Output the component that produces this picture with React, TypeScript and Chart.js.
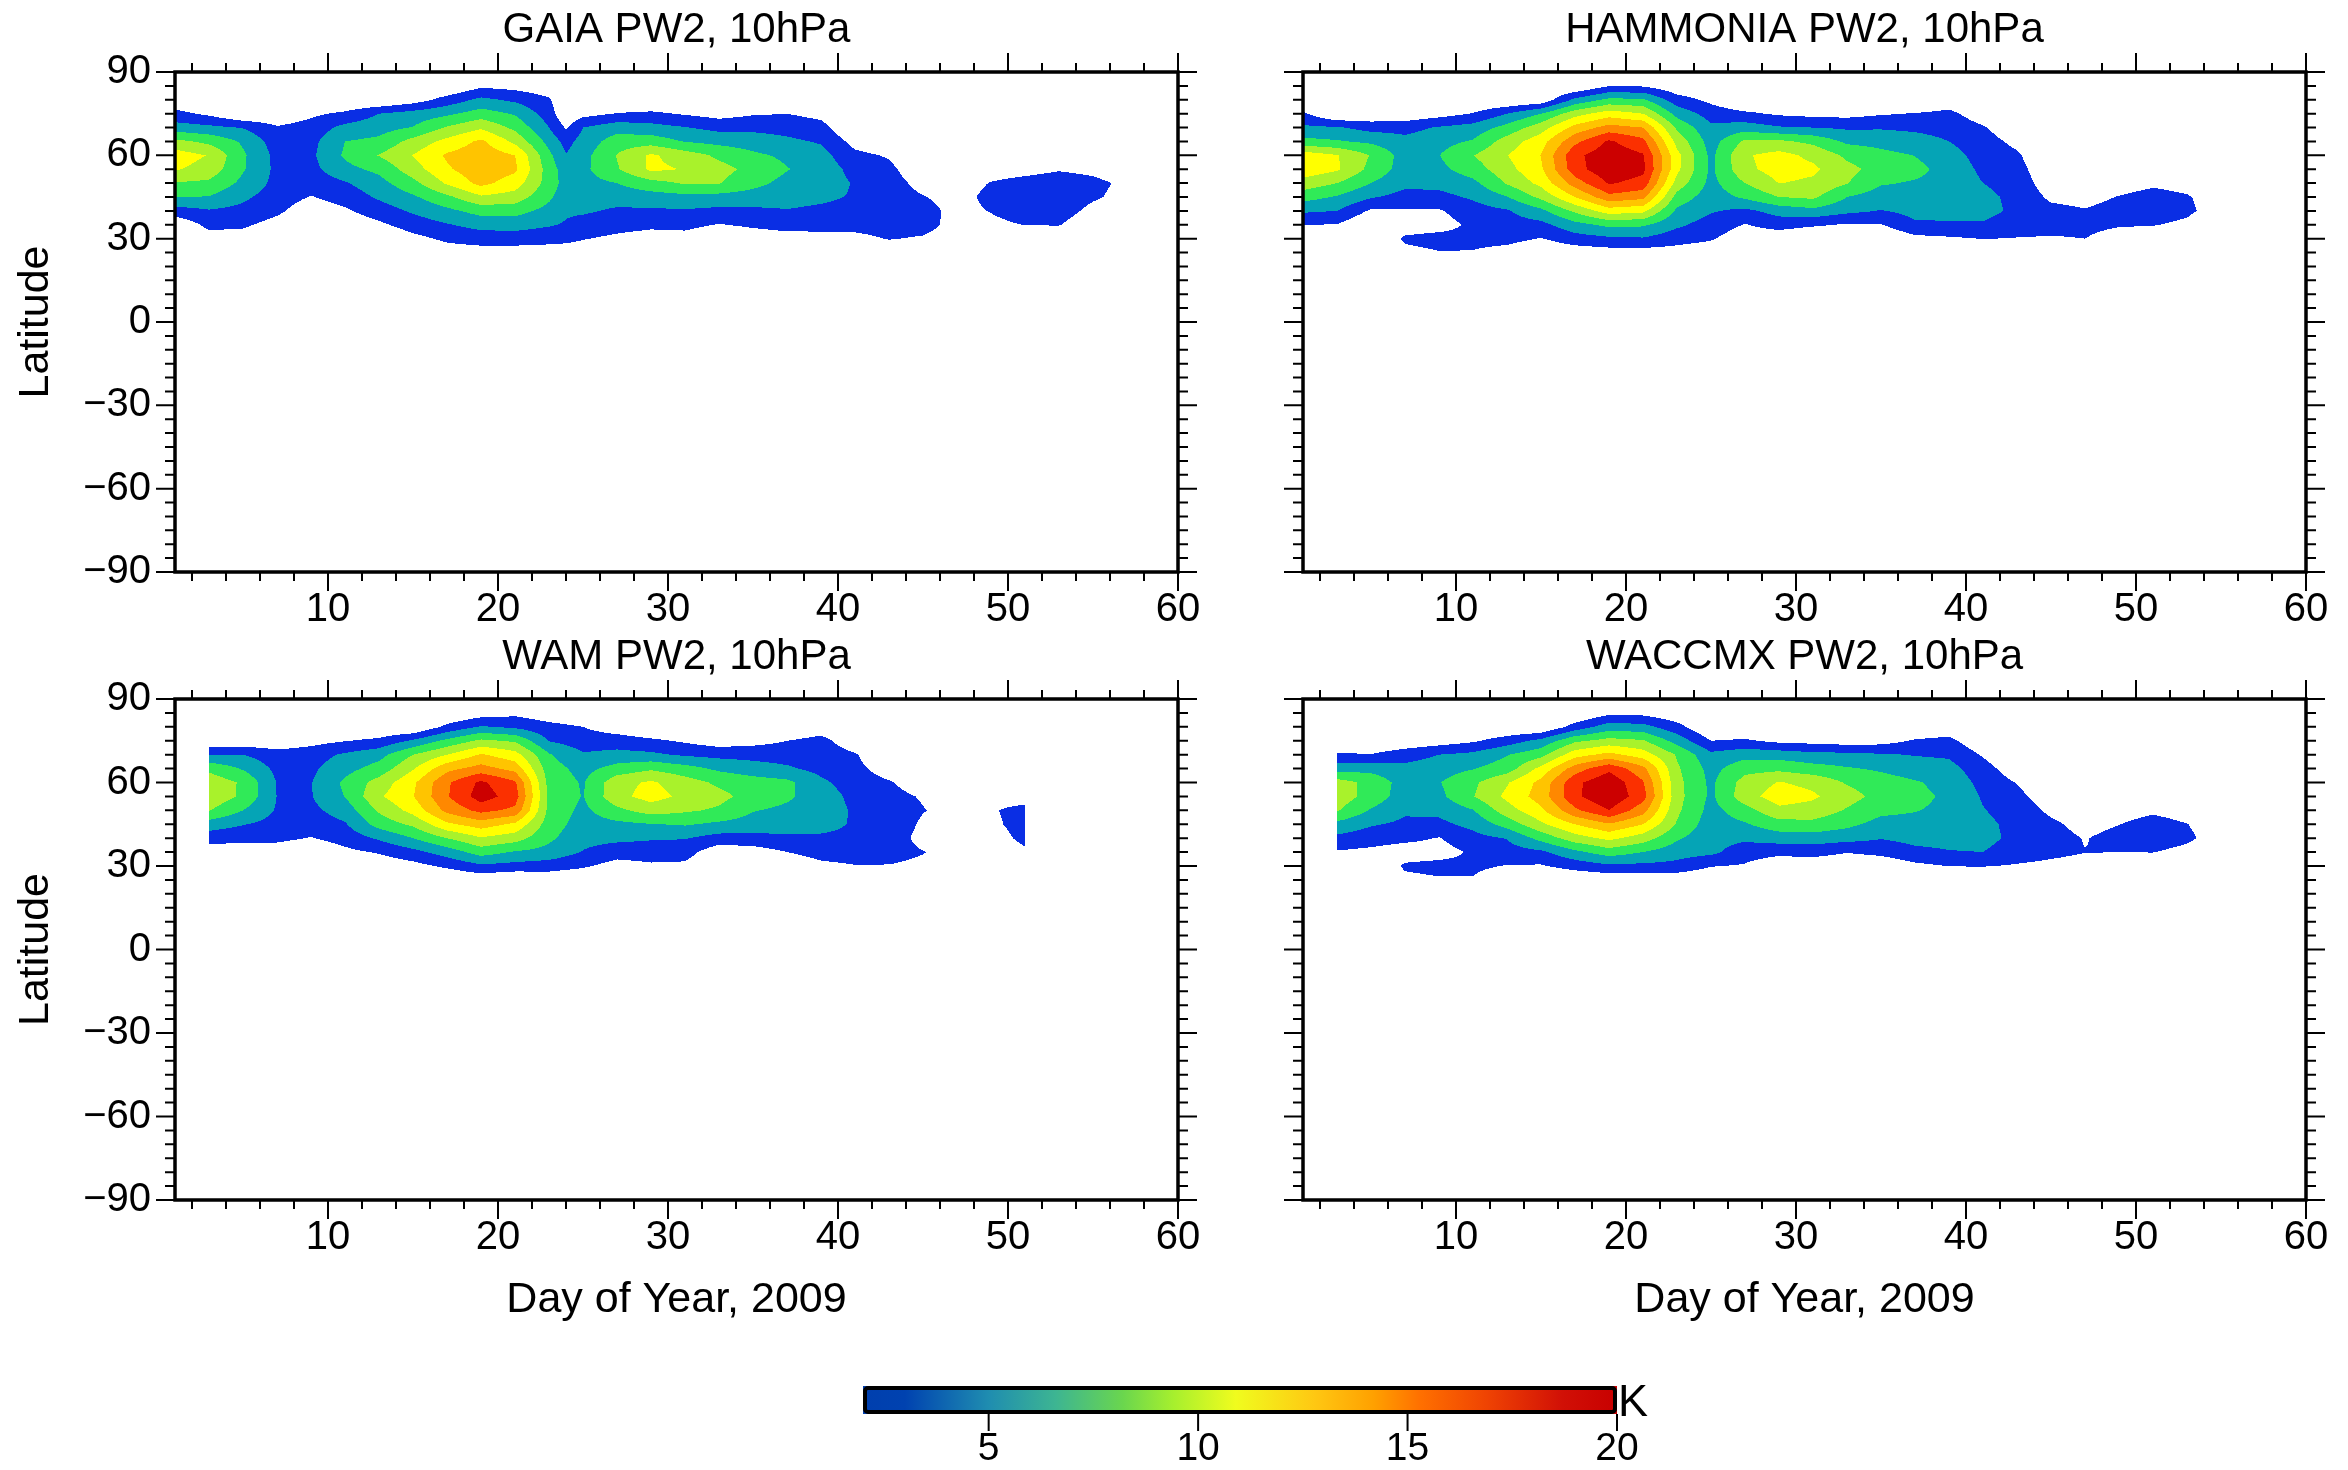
import React, { useEffect, useRef } from 'react';
import { Chart, registerables } from 'chart.js';

Chart.register(...registerables);

const FONT = '"Liberation Sans", Arial, Helvetica, sans-serif';

// ---- grid axes of the PW2 amplitude fields ----
const DAYS = [1, 3, 5, 7, 9, 11, 13, 15, 17, 19, 21, 23, 25, 27, 29, 31, 33, 35, 37, 39, 41, 43, 45, 47, 49, 51, 53, 55, 57, 59];
const GAIA_DAYS = [1, 3, 5, 7, 9, 11, 13, 15, 17, 19, 21, 23, 24, 25, 27, 29, 31, 33, 35, 37, 39, 41, 43, 45, 47, 49, 51, 53, 55, 57, 59];
const LATS = [25, 30, 35, 40, 45, 50, 55, 60, 65, 70, 75, 80, 85, 90];

// ---- axis ticks ----
const X_TICKS = [10, 20, 30, 40, 50, 60];
const Y_TICKS = [-90, -60, -30, 0, 30, 60, 90];
const CB_TICKS = [5, 10, 15, 20];

// ---- contour levels (K) ----
const LEVELS = [2, 4, 6, 8, 10, 12, 14, 16, 18];
const LEVEL_COLORS = ['#0a2ee4', '#05a4b6', '#30ea58', '#a9f22b', '#ffff00', '#ffc400', '#ff8800', '#fb3000', '#cc0000'];

// ---- colour bar ----
const CB_STOPS = [2, 3, 5, 6.6, 8.2, 9.4, 10.9, 12.8, 14.2, 15.3, 16.9, 18.7, 20];
const CB_COLORS = ['#003fae', '#0042b0', '#1f8db0', '#3db592', '#6ad64e', '#a6ef2e', '#f0fc1e', '#ffc712', '#ffa000', '#ff7000', '#ef4303', '#d11006', '#c80000'];

// ---- PW2 amplitude (K); one column per day, values at LATS ----
const GAIA_PW2 = [
  [0, 0, 0.5, 3.1, 6.1, 7.85, 10.2, 11.0, 8.55, 4.9, 2.6, 0.5, 0, 0],
  [0, 1.2, 2.5, 3.8, 5.9, 7.6, 9.2, 9.9, 7.5, 4.5, 1.6, 0, 0, 0],
  [0, 1.2, 2.3, 3.4, 4.4, 5.5, 6.2, 6.3, 5.7, 3.9, 0, 0, 0, 0],
  [0, 0.3, 1.3, 2.4, 3.0, 3.4, 3.5, 3.4, 3.0, 2.2, 0.5, 0, 0, 0],
  [0, 0, 0.3, 0.8, 1.9, 2.8, 3.4, 3.6, 3.4, 2.8, 1.6, 0, 0, 0],
  [0, 0, 0.6, 1.7, 2.8, 3.8, 5.4, 6.3, 6.0, 4.6, 2.4, 0, 0, 0],
  [0, 0.2, 1.6, 3.0, 4.3, 5.3, 6.5, 8.1, 6.5, 5.2, 4.0, 0, 0, 0],
  [0, 1.4, 2.9, 4.3, 5.7, 7.4, 9.1, 10.05, 8.7, 6.1, 4.8, 1.0, 0, 0],
  [1.0, 2.4, 3.85, 5.5, 7.55, 10.3, 11.7, 12.3, 10.6, 8.2, 5.6, 2.8, 0, 0],
  [1.1, 2.9, 4.7, 6.75, 9.7, 12.6, 13.4, 13.3, 12.4, 9.7, 6.9, 4.5, 1.6, 0],
  [1.0, 3.0, 4.8, 6.75, 9.1, 11.0, 12.4, 12.0, 9.5, 7.5, 5.8, 3.6, 1.3, 0],
  [1.0, 2.7, 4.2, 5.3, 6.4, 7.1, 7.0, 6.5, 5.3, 4.0, 3.0, 2.3, 0.6, 0],
  [1.0, 2.5, 3.8, 4.3, 4.8, 5.2, 5.0, 4.1, 3.3, 1.8, 0.3, 0, 0, 0],
  [1.0, 2.1, 3.2, 4.3, 4.8, 5.3, 5.5, 5.3, 4.8, 4.0, 1.3, 0, 0, 0],
  [0, 1.6, 2.7, 3.7, 4.8, 6.0, 7.8, 8.1, 7.0, 5.2, 2.1, 0, 0, 0],
  [0, 1.2, 2.4, 3.7, 5.1, 7.3, 10.4, 10.3, 7.1, 4.7, 2.4, 0, 0, 0],
  [0, 1.3, 2.5, 3.8, 5.4, 8.2, 9.9, 9.0, 5.9, 4.1, 1.8, 0, 0, 0],
  [0, 0.5, 1.9, 3.5, 5.3, 8.1, 8.7, 7.6, 5.4, 3.4, 1.2, 0, 0, 0],
  [0, 1.0, 2.3, 3.6, 5.1, 6.6, 7.4, 6.4, 5.0, 3.5, 1.8, 0, 0, 0],
  [0, 1.2, 2.7, 3.9, 4.7, 5.4, 6.1, 5.6, 4.4, 3.3, 2.0, 0, 0, 0],
  [0, 1.5, 2.5, 3.6, 4.4, 5.2, 5.2, 4.7, 3.8, 2.7, 1.4, 0, 0, 0],
  [0, 1.5, 2.6, 3.3, 3.8, 3.8, 3.3, 2.5, 1.3, 0, 0, 0, 0, 0],
  [0.8, 2.1, 2.7, 3.0, 3.1, 2.9, 2.5, 1.8, 0.5, 0, 0, 0, 0, 0],
  [0.5, 1.8, 2.7, 2.8, 2.1, 1.3, 0.5, 0, 0, 0, 0, 0, 0, 0],
  [0, 1.0, 1.3, 1.3, 1.2, 1.0, 0.5, 0, 0, 0, 0, 0, 0, 0],
  [0, 0.5, 1.5, 2.1, 2.6, 2.1, 1.0, 0, 0, 0, 0, 0, 0, 0],
  [0, 0.3, 2.05, 3.0, 3.3, 2.8, 1.2, 0, 0, 0, 0, 0, 0, 0],
  [0, 0.5, 2.1, 3.0, 3.4, 3.2, 1.8, 0.3, 0, 0, 0, 0, 0, 0],
  [0, 0, 0.5, 1.4, 2.3, 2.6, 1.4, 0, 0, 0, 0, 0, 0, 0],
  [0, 0, 0, 0.5, 1.3, 1.5, 0.5, 0, 0, 0, 0, 0, 0, 0],
  [0, 0, 0, 0, 0, 0, 0, 0, 0, 0, 0, 0, 0, 0],
];

const HAMMONIA_PW2 = [
  [0, 0, 2.05, 4.3, 6.8, 9.2, 11.3, 11.2, 6.6, 4.4, 2.3, 0, 0, 0],
  [0, 0.3, 1.9, 4.0, 5.8, 8.0, 10.3, 10.1, 6.2, 4.2, 0, 0, 0, 0],
  [0, 0, 0, 1.7, 4.2, 6.0, 7.4, 7.9, 5.6, 3.3, 0.3, 0, 0, 0],
  [1.5, 2.3, 1.0, 1.8, 3.3, 4.5, 5.1, 5.1, 4.6, 3.3, 0.5, 0, 0, 0],
  [1.9, 2.7, 1.2, 1.8, 3.4, 4.6, 5.5, 5.95, 5.3, 4.2, 1.2, 0, 0, 0],
  [1.9, 2.5, 2.4, 3.1, 4.3, 5.5, 7.0, 7.95, 6.2, 4.8, 2.1, 0, 0, 0],
  [1.3, 2.6, 3.1, 3.8, 5.9, 8.2, 9.3, 9.95, 8.9, 6.7, 4.0, 0, 0, 0],
  [0.3, 1.9, 3.4, 5.5, 8.5, 10.6, 11.7, 12.05, 11.2, 9.1, 6.0, 0.5, 0, 0],
  [0.8, 3.1, 5.3, 8.4, 12.0, 15.0, 17.2, 17.5, 15.5, 12.7, 9.2, 4.5, 0, 0],
  [1.1, 3.6, 6.5, 11.0, 15.4, 18.2, 19.5, 19.3, 18.3, 14.8, 11.0, 6.5, 1.9, 0],
  [1.1, 3.8, 6.3, 10.5, 14.6, 17.3, 18.5, 18.2, 16.6, 14.0, 10.0, 6.3, 1.8, 0],
  [1.1, 2.8, 4.4, 5.6, 7.2, 9.2, 10.5, 10.6, 9.3, 7.6, 5.3, 2.9, 0.5, 0],
  [0.8, 2.2, 3.1, 4.2, 4.9, 5.4, 5.6, 5.5, 5.1, 4.4, 3.1, 1.5, 0, 0],
  [0, 0.8, 1.9, 3.5, 6.4, 8.0, 9.5, 9.8, 8.4, 5.0, 2.4, 0, 0, 0],
  [0, 0.7, 2.8, 4.8, 8.0, 10.05, 10.9, 10.7, 8.4, 4.2, 1.7, 0, 0, 0],
  [0, 0, 2.3, 5.4, 8.4, 9.6, 10.4, 9.5, 7.5, 4.0, 1.4, 0, 0, 0],
  [0, 0, 1.8, 4.5, 6.0, 8.1, 8.6, 7.6, 5.6, 3.7, 1.3, 0, 0, 0],
  [0, 0, 1.9, 3.9, 5.0, 6.2, 7.2, 6.6, 5.3, 3.8, 1.8, 0, 0, 0],
  [0, 1.4, 3.7, 4.6, 5.2, 5.8, 6.6, 5.95, 4.8, 3.6, 2.1, 0, 0, 0],
  [0, 1.7, 3.8, 4.5, 5.0, 5.3, 5.2, 4.8, 4.0, 3.3, 2.5, 0.8, 0, 0],
  [0.5, 2.05, 3.8, 4.6, 4.5, 4.0, 3.6, 3.2, 2.8, 2.2, 0.9, 0, 0, 0],
  [0.5, 1.9, 3.0, 3.6, 3.5, 3.2, 2.8, 2.3, 1.5, 0.6, 0, 0, 0, 0],
  [0.3, 1.8, 2.7, 2.6, 1.6, 0.8, 0.3, 0, 0, 0, 0, 0, 0, 0],
  [0.3, 2.0, 2.6, 2.15, 1.3, 0.3, 0, 0, 0, 0, 0, 0, 0, 0],
  [0, 1.0, 2.2, 2.8, 2.1, 1.0, 0, 0, 0, 0, 0, 0, 0, 0],
  [0, 0.8, 2.1, 2.9, 2.8, 1.6, 0.3, 0, 0, 0, 0, 0, 0, 0],
  [0, 0.5, 1.6, 2.4, 2.2, 1.2, 0, 0, 0, 0, 0, 0, 0, 0],
  [0, 0, 0, 1.0, 0.9, 0, 0, 0, 0, 0, 0, 0, 0, 0],
  [0, 0, 0, 0, 0, 0, 0, 0, 0, 0, 0, 0, 0, 0],
  [0, 0, 0, 0, 0, 0, 0, 0, 0, 0, 0, 0, 0, 0],
];

const WAM_PW2 = [
  null,
  [0, 0, 0.8, 2.9, 5.0, 8.1, 9.5, 9.3, 7.5, 4.0, 0.3, 0, 0, 0],
  [0, 0, 0.8, 2.6, 4.1, 6.0, 7.6, 7.7, 5.8, 4.0, 0.5, 0, 0, 0],
  [0, 0, 0.9, 2.5, 3.3, 3.8, 3.95, 3.9, 3.5, 2.9, 0.5, 0, 0, 0],
  [0, 0, 0.3, 1.9, 2.9, 3.5, 3.9, 3.9, 3.6, 3.1, 1.3, 0, 0, 0],
  [0, 0, 1.5, 2.8, 3.8, 4.9, 6.05, 6.4, 5.3, 4.3, 1.9, 0, 0, 0],
  [0, 0.6, 2.2, 4.3, 6.8, 8.3, 9.7, 8.8, 6.8, 5.3, 2.5, 0, 0, 0],
  [0, 1.3, 3.4, 6.0, 8.4, 10.7, 11.9, 11.6, 9.8, 8.0, 4.3, 0, 0, 0],
  [0, 2.4, 4.9, 8.0, 11.6, 14.6, 15.8, 15.7, 13.4, 10.0, 6.5, 2.5, 0, 0],
  [0.6, 3.6, 6.9, 9.8, 13.0, 16.6, 19.0, 18.4, 14.8, 12.2, 8.4, 4.2, 1.0, 0],
  [0, 3.3, 5.8, 8.9, 11.6, 15.5, 17.0, 16.3, 13.3, 10.8, 7.7, 3.6, 1.5, 0],
  [0.5, 3.0, 5.3, 6.4, 7.0, 7.4, 7.5, 7.3, 6.9, 6.2, 3.9, 2.6, 0.8, 0],
  [0.2, 2.3, 3.9, 4.6, 5.1, 5.5, 5.9, 5.8, 5.3, 4.2, 3.0, 2.0, 0.5, 0],
  [0, 1.2, 2.9, 4.5, 5.5, 7.5, 9.4, 9.3, 6.8, 4.6, 3.0, 0.9, 0, 0],
  [0, 1.7, 2.9, 4.2, 5.9, 8.9, 10.8, 10.3, 7.7, 4.4, 2.4, 0, 0, 0],
  [0, 1.6, 2.8, 4.1, 6.2, 8.3, 9.5, 8.9, 6.8, 3.7, 1.7, 0, 0, 0],
  [0, 0, 0.7, 3.2, 5.6, 7.7, 8.6, 7.6, 5.6, 3.4, 0.9, 0, 0, 0],
  [0, 0, 1.0, 3.3, 5.2, 6.1, 7.2, 6.9, 4.9, 3.3, 1.3, 0, 0, 0],
  [0, 0.4, 2.0, 3.7, 4.8, 5.6, 6.3, 6.5, 4.3, 3.1, 2.0, 0.3, 0, 0],
  [0, 1.5, 2.8, 3.7, 4.6, 5.2, 5.1, 4.4, 3.4, 3.0, 2.6, 1.0, 0, 0],
  [0, 1.9, 3.0, 3.6, 3.8, 3.7, 3.4, 3.0, 2.6, 2.2, 0.8, 0, 0, 0],
  [0, 1.9, 2.8, 3.2, 3.3, 3.1, 2.7, 2.2, 1.0, 0, 0, 0, 0, 0],
  [0, 1.5, 2.1, 1.3, 1.7, 2.1, 1.8, 0.8, 0, 0, 0, 0, 0, 0],
  [0, 0.8, 1.0, 0.8, 1.0, 1.2, 0.8, 0.2, 0, 0, 0, 0, 0, 0],
  [0, 0, 0.5, 0.9, 1.5, 1.8, 1.2, 0.3, 0, 0, 0, 0, 0, 0],
  [0, 0.5, 1.6, 2.6, 2.9, 2.7, 1.0, 0.3, 0, 0, 0, 0, 0, 0],
  null,
  null,
  null,
  null,
];

const WACCMX_PW2 = [
  null,
  [0, 0.5, 1.8, 3.5, 5.4, 8.2, 9.2, 8.9, 5.2, 2.3, 0, 0, 0, 0],
  [0, 0, 1.5, 2.9, 4.2, 5.8, 7.2, 7.4, 5.3, 2.1, 0, 0, 0, 0],
  [1.5, 2.3, 1.0, 2.5, 3.6, 4.3, 5.0, 5.1, 4.6, 3.1, 0.5, 0, 0, 0],
  [1.8, 2.6, 1.2, 1.9, 3.5, 4.5, 5.5, 5.9, 5.1, 4.0, 1.0, 0, 0, 0],
  [1.85, 2.4, 2.3, 3.3, 4.6, 5.9, 7.9, 7.6, 5.9, 4.5, 1.7, 0, 0, 0],
  [0.5, 1.9, 3.1, 4.1, 6.8, 9.1, 10.5, 9.8, 7.0, 5.9, 3.0, 0, 0, 0],
  [0, 1.8, 3.6, 6.7, 9.6, 11.6, 12.9, 12.6, 10.6, 7.3, 4.6, 0, 0, 0],
  [0.2, 2.8, 5.5, 9.1, 12.0, 15.6, 17.6, 17.5, 15.0, 11.2, 7.6, 2.8, 0, 0],
  [0.5, 3.6, 7.0, 10.5, 13.8, 18.0, 19.7, 19.6, 17.5, 12.6, 8.7, 5.0, 1.5, 0],
  [0.6, 3.5, 6.0, 9.0, 12.0, 14.8, 16.8, 16.2, 14.6, 11.0, 8.2, 4.7, 1.4, 0],
  [0.5, 3.4, 4.8, 6.3, 7.8, 8.4, 8.7, 8.6, 8.3, 7.8, 5.2, 2.7, 0.5, 0],
  [0.2, 2.1, 4.5, 4.6, 4.9, 5.3, 5.6, 5.6, 5.3, 4.5, 2.0, 0, 0, 0],
  [0, 1.8, 2.9, 4.4, 5.8, 7.2, 9.2, 8.8, 7.3, 5.3, 2.3, 0, 0, 0],
  [0, 0.5, 2.6, 4.9, 7.2, 9.5, 11.0, 10.1, 7.5, 5.1, 1.5, 0, 0, 0],
  [0, 0.6, 2.8, 5.0, 7.4, 9.2, 10.3, 9.5, 6.8, 4.6, 1.3, 0, 0, 0],
  [0, 0.3, 2.1, 4.7, 6.5, 7.8, 8.8, 7.8, 6.2, 4.5, 1.0, 0, 0, 0],
  [0, 0.4, 2.6, 4.1, 5.3, 6.5, 7.3, 6.9, 5.7, 4.2, 1.2, 0, 0, 0],
  [0, 1.5, 3.5, 4.6, 5.3, 6.1, 6.6, 6.2, 5.0, 3.9, 2.2, 0.4, 0, 0],
  [0, 2.05, 3.9, 4.6, 5.1, 5.5, 5.6, 5.3, 4.7, 3.7, 2.5, 0.8, 0, 0],
  [0, 2.1, 4.0, 4.6, 4.5, 4.1, 3.8, 3.4, 2.8, 1.8, 0.5, 0, 0, 0],
  [0, 1.8, 3.0, 3.5, 3.4, 3.1, 2.6, 1.9, 0.8, 0, 0, 0, 0, 0],
  [0, 1.5, 2.5, 2.8, 2.4, 1.6, 0.8, 0, 0, 0, 0, 0, 0, 0],
  [0, 1.2, 2.05, 1.9, 1.3, 0.8, 0, 0, 0, 0, 0, 0, 0, 0],
  [0, 0.6, 2.02, 2.7, 1.95, 1.0, 0.2, 0, 0, 0, 0, 0, 0, 0],
  [0, 0.5, 2.05, 3.1, 2.9, 1.6, 0.4, 0, 0, 0, 0, 0, 0, 0],
  [0, 0, 1.4, 2.4, 2.05, 1.0, 0, 0, 0, 0, 0, 0, 0, 0],
  [0, 0, 0, 1.0, 0.8, 0, 0, 0, 0, 0, 0, 0, 0, 0],
  [0, 0, 0, 0, 0, 0, 0, 0, 0, 0, 0, 0, 0, 0],
  [0, 0, 0, 0, 0, 0, 0, 0, 0, 0, 0, 0, 0, 0],
];

const PANEL_TITLES = ['GAIA PW2, 10hPa', 'HAMMONIA PW2, 10hPa', 'WAM PW2, 10hPa', 'WACCMX PW2, 10hPa'];
const PANEL_GRIDS = [GAIA_PW2, HAMMONIA_PW2, WAM_PW2, WACCMX_PW2];
const PANEL_DAYS = [GAIA_DAYS, DAYS, DAYS, DAYS];

// layout of the four panel canvases (page pixels)
const PANEL_LAYOUT = [
  { x: 0, y: 0, w: 1230, h: 640, yAxisW: 175, padR: 52, xAxisH: 68, left: true, bottom: false },
  { x: 1230, y: 0, w: 1118, h: 640, yAxisW: 73, padR: 42, xAxisH: 68, left: false, bottom: false },
  { x: 0, y: 627, w: 1230, h: 713, yAxisW: 175, padR: 52, xAxisH: 140, left: true, bottom: true },
  { x: 1230, y: 627, w: 1118, h: 713, yAxisW: 73, padR: 42, xAxisH: 140, left: false, bottom: true },
];

const hexToRgb = (h: string) => [parseInt(h.slice(1, 3), 16), parseInt(h.slice(3, 5), 16), parseInt(h.slice(5, 7), 16)];

function locate(arr: number[], v: number): [number, number] | null {
  if (!(v >= arr[0] && v <= arr[arr.length - 1])) return null;
  let i = 0;
  while (i < arr.length - 2 && v > arr[i + 1]) i++;
  return [i, (v - arr[i]) / (arr[i + 1] - arr[i])];
}

const fmtLat = (v: number) => (v < 0 ? '\u2212' + Math.abs(v) : String(v));

const contourPlugin = {
  id: 'contourFill',
  beforeDatasetsDraw(chart: any, _args: any, opts: any) {
    const grid = opts && opts.grid;
    const days = opts && opts.days;
    if (!grid || !days) return;
    const { ctx, chartArea, scales } = chart;
    const xs = scales.x;
    const ys = scales.y;
    const left = Math.round(chartArea.left);
    const top = Math.round(chartArea.top);
    const w = Math.round(chartArea.right) - left;
    const h = Math.round(chartArea.bottom) - top;
    const off = document.createElement('canvas');
    off.width = w;
    off.height = h;
    const octx = off.getContext('2d') as CanvasRenderingContext2D;
    const img = octx.createImageData(w, h);
    const data = img.data;
    const rgb = LEVEL_COLORS.map(hexToRgb);
    const colLoc: ([number, number] | null)[] = [];
    for (let px = 0; px < w; px++) colLoc.push(locate(days, xs.getValueForPixel(left + px + 0.5)));
    const rowLoc: ([number, number] | null)[] = [];
    for (let py = 0; py < h; py++) rowLoc.push(locate(LATS, ys.getValueForPixel(top + py + 0.5)));
    for (let py = 0; py < h; py++) {
      const r = rowLoc[py];
      if (!r) continue;
      const j = r[0];
      const ty = r[1];
      for (let px = 0; px < w; px++) {
        const c = colLoc[px];
        if (!c) continue;
        const i = c[0];
        const tx = c[1];
        const c0 = grid[i];
        const c1 = grid[i + 1];
        if (!c0 || !c1) continue;
        const v = (c0[j] * (1 - tx) + c1[j] * tx) * (1 - ty) + (c0[j + 1] * (1 - tx) + c1[j + 1] * tx) * ty;
        if (v < LEVELS[0]) continue;
        let k = 0;
        while (k < LEVELS.length - 1 && v >= LEVELS[k + 1]) k++;
        const o = (py * w + px) * 4;
        data[o] = rgb[k][0];
        data[o + 1] = rgb[k][1];
        data[o + 2] = rgb[k][2];
        data[o + 3] = 255;
      }
    }
    octx.putImageData(img, 0, 0);
    ctx.drawImage(off, left, top);
  },
};

const X_MINOR_STEP = 2;
const Y_MINOR_STEP = 5;

const framePlugin = {
  id: 'ncarFrame',
  afterDraw(chart: any) {
    const { ctx, chartArea, scales } = chart;
    const { left, right, top, bottom } = chartArea;
    const xs = scales.x;
    const ys = scales.y;
    ctx.save();
    ctx.strokeStyle = '#000';
    ctx.lineWidth = 2;
    ctx.beginPath();
    for (let d = X_MINOR_STEP; d <= xs.max + 1e-6; d += X_MINOR_STEP) {
      const px = xs.getPixelForValue(d);
      const len = d % 10 === 0 ? 19 : 9;
      ctx.moveTo(px, bottom);
      ctx.lineTo(px, bottom + len);
      ctx.moveTo(px, top);
      ctx.lineTo(px, top - len);
    }
    for (let lat = ys.min; lat <= ys.max + 1e-6; lat += Y_MINOR_STEP) {
      const py = ys.getPixelForValue(lat);
      const len = lat % 30 === 0 ? 19 : 10;
      ctx.moveTo(left, py);
      ctx.lineTo(left - len, py);
      ctx.moveTo(right, py);
      ctx.lineTo(right + len, py);
    }
    ctx.stroke();
    ctx.lineWidth = 3.5;
    ctx.strokeRect(left, top, right - left, bottom - top);
    ctx.restore();
  },
};

const colorbarPlugin = {
  id: 'colorbar',
  beforeDatasetsDraw(chart: any) {
    const { ctx, chartArea, scales } = chart;
    const { left, right, top, bottom } = chartArea;
    const xs = scales.x;
    const g = ctx.createLinearGradient(left, 0, right, 0);
    CB_STOPS.forEach((v, i) => {
      const t = (xs.getPixelForValue(v) - left) / (right - left);
      g.addColorStop(Math.min(1, Math.max(0, t)), CB_COLORS[i]);
    });
    ctx.save();
    ctx.fillStyle = g;
    ctx.fillRect(left, top, right - left, bottom - top);
    ctx.restore();
  },
  afterDraw(chart: any) {
    const { ctx, chartArea, scales } = chart;
    const { left, right, top, bottom } = chartArea;
    const xs = scales.x;
    ctx.save();
    ctx.strokeStyle = '#000';
    ctx.lineWidth = 2;
    ctx.beginPath();
    CB_TICKS.forEach((v) => {
      const px = xs.getPixelForValue(v);
      ctx.moveTo(px, bottom);
      ctx.lineTo(px, bottom + 17);
    });
    ctx.stroke();
    ctx.lineWidth = 4;
    ctx.beginPath();
    if (ctx.roundRect) ctx.roundRect(left + 2, top + 2, right - left - 4, bottom - top - 4, 3);
    else ctx.rect(left + 2, top + 2, right - left - 4, bottom - top - 4);
    ctx.stroke();
    ctx.fillStyle = '#000';
    ctx.font = '45px ' + FONT;
    ctx.textAlign = 'left';
    ctx.textBaseline = 'alphabetic';
    ctx.fillText('K', right + 1, bottom + 2);
    ctx.restore();
  },
};

function panelConfig(idx: number): any {
  const L = PANEL_LAYOUT[idx];
  return {
    type: 'scatter',
    data: { datasets: [{ data: [], showLine: false, pointRadius: 0 }] },
    options: {
      responsive: false,
      animation: false,
      devicePixelRatio: 1,
      events: [],
      layout: { padding: { left: 0, right: L.padR, top: 0, bottom: 0 } },
      plugins: {
        legend: { display: false },
        tooltip: { enabled: false },
        title: {
          display: true,
          text: PANEL_TITLES[idx],
          fullSize: false,
          color: '#000',
          font: { family: FONT, size: 42, weight: 'normal', lineHeight: 1.2 },
          padding: { top: 5, bottom: 16.6 },
        },
        contourFill: { grid: PANEL_GRIDS[idx], days: PANEL_DAYS[idx] },
      },
      scales: {
        x: {
          type: 'linear',
          position: 'bottom',
          min: 1,
          max: 60,
          bounds: 'data',
          afterBuildTicks: (s: any) => {
            s.ticks = X_TICKS.map((v) => ({ value: v }));
          },
          afterFit: (s: any) => {
            s.height = L.xAxisH;
          },
          grid: { display: false, drawTicks: false },
          border: { display: false },
          ticks: {
            padding: 14,
            color: '#000',
            autoSkip: false,
            maxRotation: 0,
            font: { family: FONT, size: 40, lineHeight: 1.2 },
            callback: (v: number) => String(v),
          },
          title: {
            display: L.bottom,
            text: 'Day of Year, 2009',
            color: '#000',
            font: { family: FONT, size: 43, lineHeight: 1.2 },
            padding: { top: 0, bottom: 14 },
          },
        },
        y: {
          type: 'linear',
          position: 'left',
          min: -90,
          max: 90,
          bounds: 'data',
          afterBuildTicks: (s: any) => {
            s.ticks = Y_TICKS.map((v) => ({ value: v }));
          },
          afterFit: (s: any) => {
            s.width = L.yAxisW;
          },
          grid: { display: false, drawTicks: false },
          border: { display: false },
          ticks: {
            display: L.left,
            padding: 24,
            color: '#000',
            autoSkip: false,
            font: { family: FONT, size: 40, lineHeight: 1.2 },
            callback: (v: number) => fmtLat(v),
          },
          title: {
            display: L.left,
            text: 'Latitude',
            color: '#000',
            font: { family: FONT, size: 43, lineHeight: 1.2 },
            padding: { top: 10, bottom: 0 },
          },
        },
      },
    },
    plugins: [contourPlugin, framePlugin],
  };
}

function colorbarConfig(): any {
  return {
    type: 'scatter',
    data: { datasets: [{ data: [], pointRadius: 0 }] },
    options: {
      responsive: false,
      animation: false,
      devicePixelRatio: 1,
      events: [],
      layout: { padding: { left: 63, right: 83, top: 26, bottom: 0 } },
      plugins: { legend: { display: false }, tooltip: { enabled: false }, title: { display: false } },
      scales: {
        x: {
          type: 'linear',
          position: 'bottom',
          min: CB_STOPS[0],
          max: CB_STOPS[CB_STOPS.length - 1],
          bounds: 'data',
          afterBuildTicks: (s: any) => {
            s.ticks = CB_TICKS.map((v) => ({ value: v }));
          },
          afterFit: (s: any) => {
            s.height = 56;
          },
          grid: { display: false, drawTicks: false },
          border: { display: false },
          ticks: {
            padding: 12,
            color: '#000',
            autoSkip: false,
            maxRotation: 0,
            font: { family: FONT, size: 39, lineHeight: 1.2 },
            callback: (v: number) => String(v),
          },
        },
        y: { type: 'linear', min: 0, max: 1, display: false },
      },
    },
    plugins: [colorbarPlugin],
  };
}

export default function App() {
  const panelRefs = useRef<(HTMLCanvasElement | null)[]>([]);
  const cbRef = useRef<HTMLCanvasElement | null>(null);

  useEffect(() => {
    Chart.defaults.font.family = FONT;
    Chart.defaults.color = '#000';
    const charts: Chart[] = [];
    PANEL_LAYOUT.forEach((_, i) => {
      const c = panelRefs.current[i];
      if (c) charts.push(new Chart(c, panelConfig(i)));
    });
    if (cbRef.current) charts.push(new Chart(cbRef.current, colorbarConfig()));
    return () => charts.forEach((c) => c.destroy());
  }, []);

  return (
    <div style={{ position: 'absolute', left: 0, top: 0, width: 2348, height: 1470, background: '#fff', overflow: 'hidden' }}>
      {PANEL_LAYOUT.map((L, i) => (
        <canvas
          key={i}
          ref={(el) => {
            panelRefs.current[i] = el;
          }}
          width={L.w}
          height={L.h}
          style={{ position: 'absolute', left: L.x, top: L.y, width: L.w, height: L.h }}
        />
      ))}
      <canvas
        ref={cbRef}
        width={900}
        height={110}
        style={{ position: 'absolute', left: 800, top: 1360, width: 900, height: 110 }}
      />
    </div>
  );
}
